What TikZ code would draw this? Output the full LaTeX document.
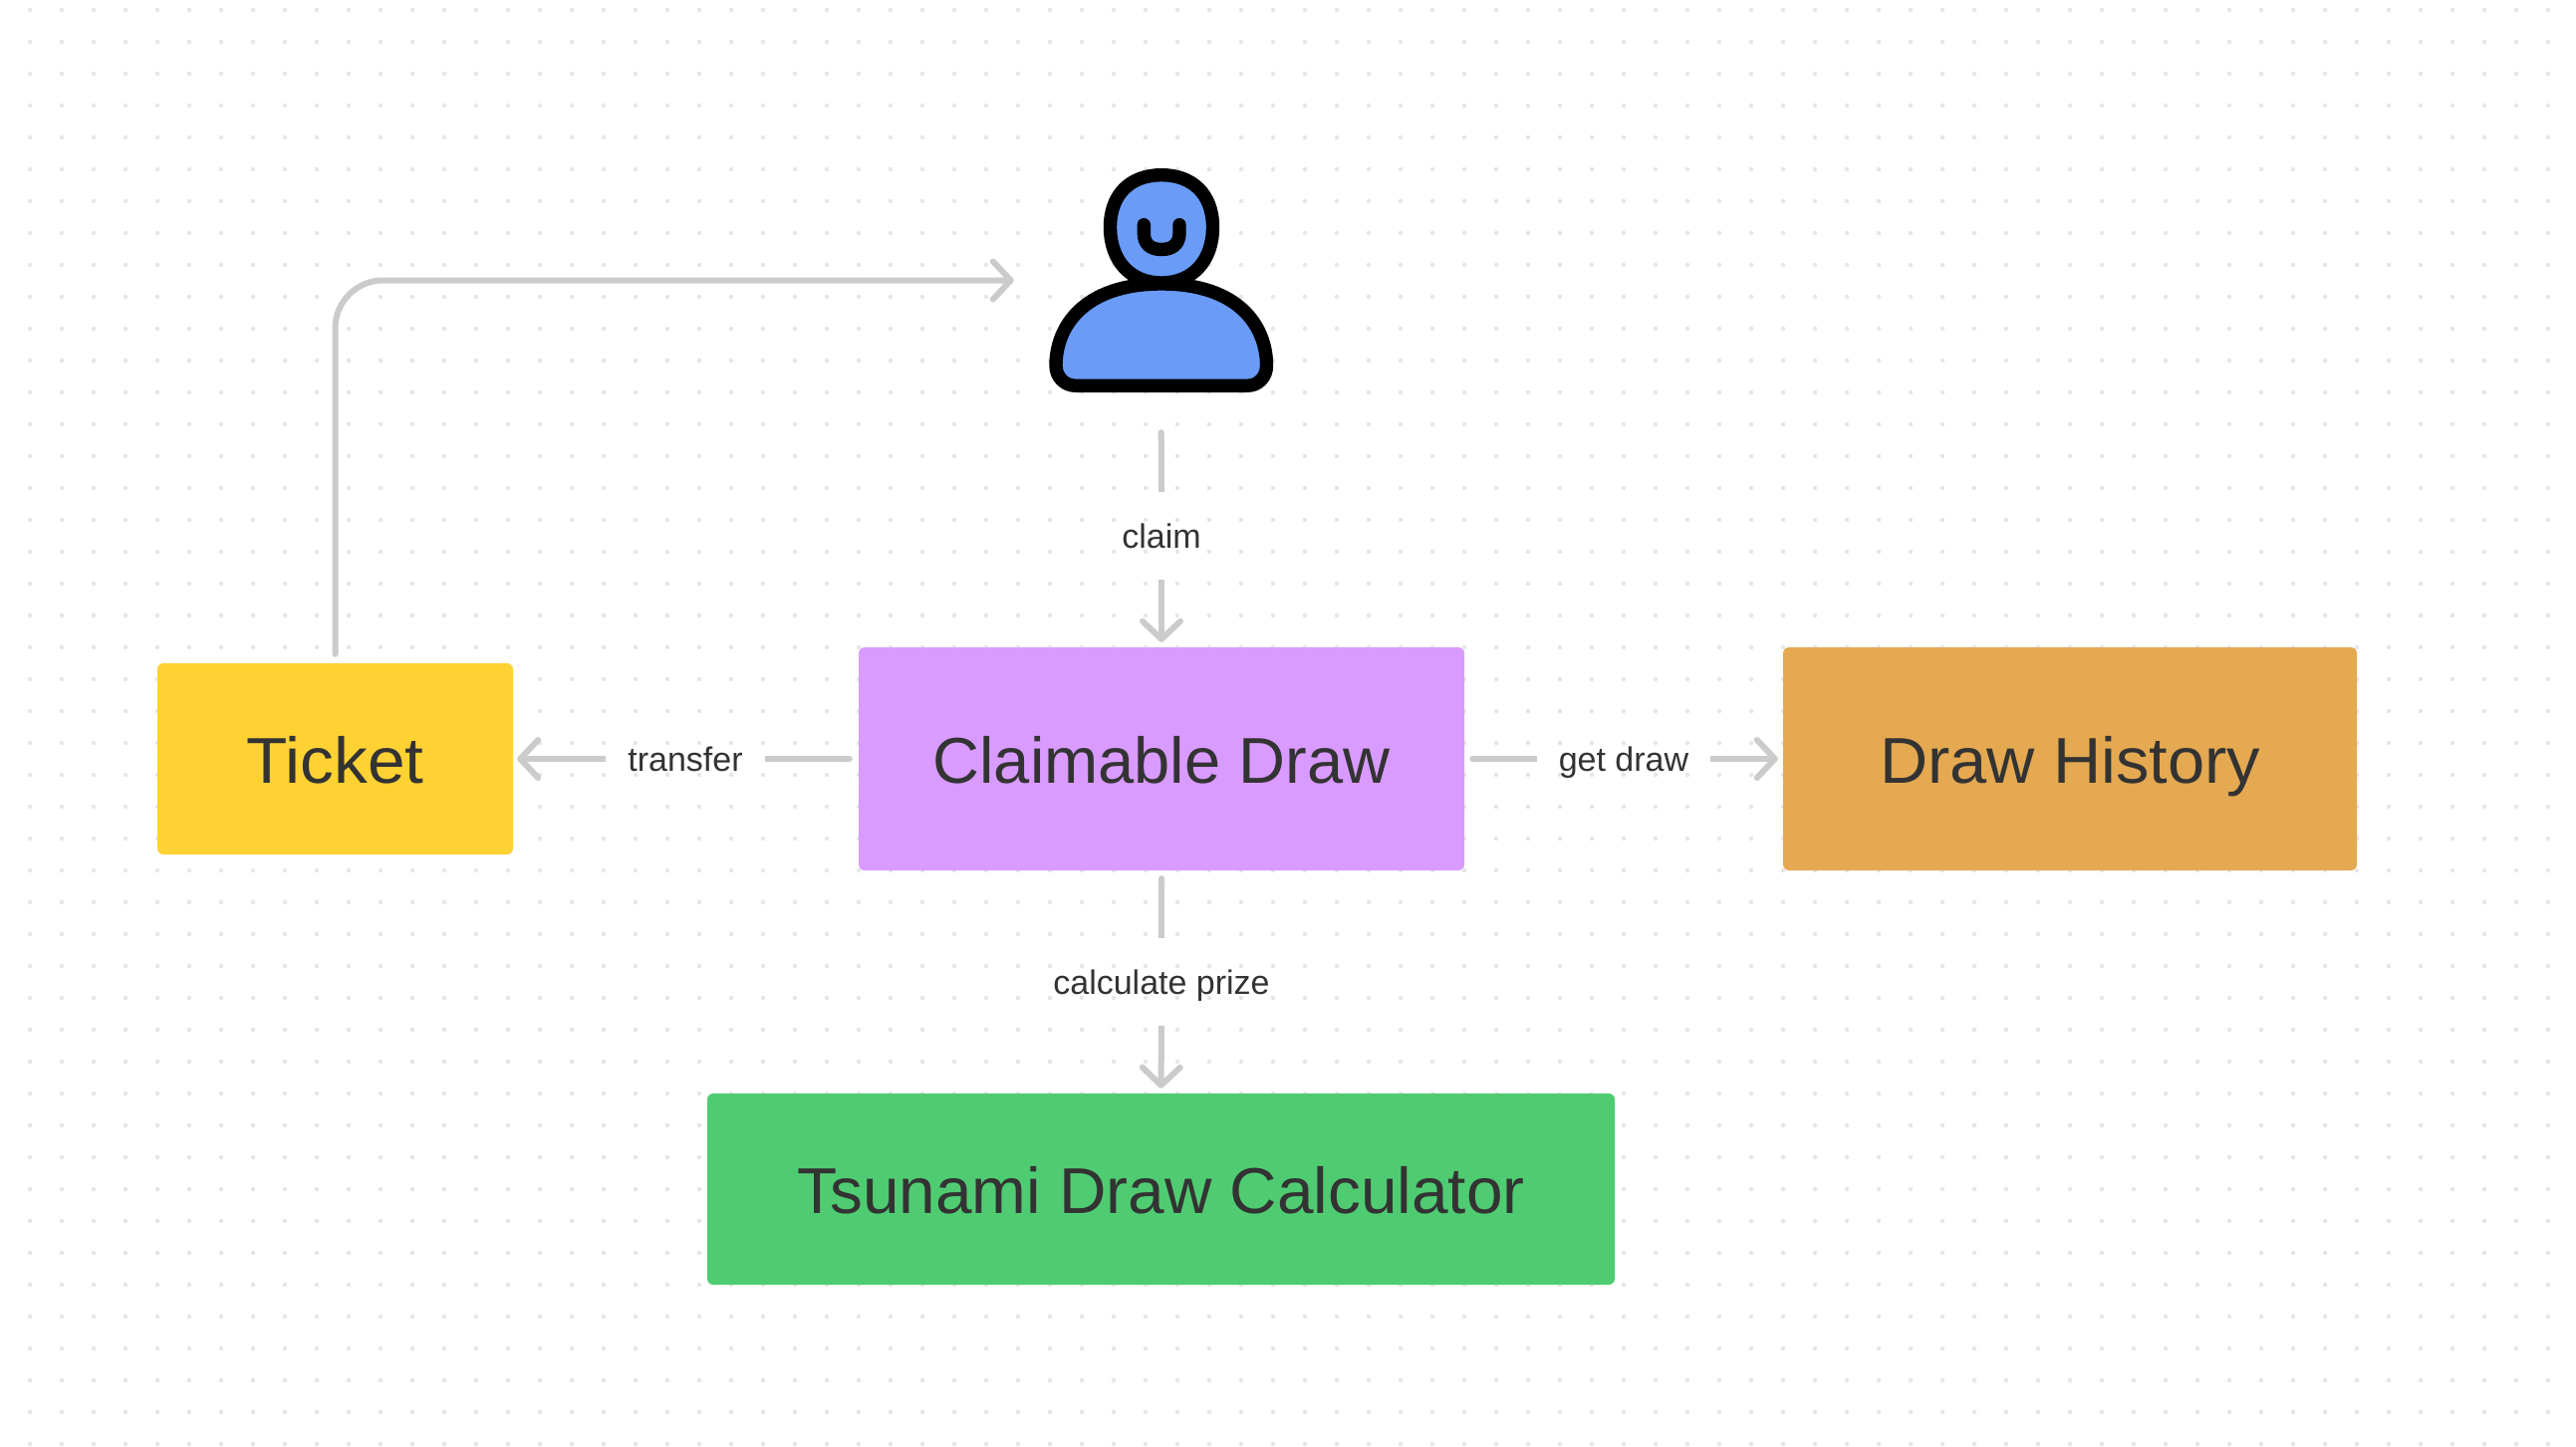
\documentclass[tikz,border=0pt]{standalone}
\usepackage{fontspec}
\setmainfont{Liberation Sans}
\usetikzlibrary{arrows.meta}
\definecolor{ink}{HTML}{333333}
\definecolor{wire}{HTML}{CCCACB}
\definecolor{gridDot}{HTML}{E6E6E6}
\definecolor{cYellow}{HTML}{FFD233}
\definecolor{cPurple}{HTML}{D99BFF}
\definecolor{cOrange}{HTML}{E4A951}
\definecolor{cGreen}{HTML}{4FCC72}
\definecolor{cBlue}{HTML}{699BF7}
\tikzset{
  x=1pt,y=-1pt,
  boxnode/.style={rectangle,rounded corners=6pt,draw=none,inner sep=0pt,text=ink,
    font=\fontsize{65}{72}\selectfont,text height=48pt,text depth=0pt,anchor=center},
  lbl/.style={rectangle,inner sep=0pt,text=ink,font=\fontsize{34}{40}\selectfont,
    text height=24pt,text depth=0pt,anchor=center},
  wireline/.style={draw=wire,line width=6pt},
  wirehead/.style={-{Straight Barb[length=18pt,width=38pt,line width=6pt,round,line cap=round]}},
  wirestart/.style={{Round Cap[]}-},
  wireboth/.style={{Round Cap[]}-{Straight Barb[length=18pt,width=38pt,line width=6pt,round,line cap=round]}},
  figure/.style={draw=black,line width=13.4pt,line join=round,fill=cBlue},
  dotrow/.style={draw=gridDot,line width=4.4pt,line cap=round,dash pattern=on 0pt off 32pt},
}
\begin{document}
\begin{tikzpicture}
\useasboundingbox (0,0) rectangle (2586,1452);
\fill[white] (0,0) rectangle (2586,1452);
% dot grid
\foreach \j in {0,...,45}{
  \draw[dotrow] (-2,{10+32*\j}) -- (2560,{10+32*\j});
}
% boxes
\node[boxnode,fill=cYellow,minimum width=357pt,minimum height=192pt] (ticket) at (336.5,762) {\scalebox{1.04}[1]{Ticket}};
\node[boxnode,fill=cPurple,minimum width=608pt,minimum height=224pt] (claimable) at (1166,762) {Claimable Draw};
\node[boxnode,fill=cOrange,minimum width=576pt,minimum height=224pt] (history) at (2078,762) {\scalebox{1.027}[1]{Draw History}};
\node[boxnode,fill=cGreen,minimum width=911pt,minimum height=192pt] (calc) at (1165.5,1194) {\scalebox{1.011}[1]{Tsunami Draw Calculator}};
% person
\node[inner sep=0pt,minimum width=225pt,minimum height=225pt] (person) at (1165.5,281.5) {};
\path[figure] (1166,175.7) .. controls (1135,175.7) and (1114.5,195) .. (1114.5,228)
  .. controls (1114.5,262) and (1135,284) .. (1166,284)
  .. controls (1197,284) and (1217.5,262) .. (1217.5,228)
  .. controls (1217.5,195) and (1197,175.7) .. (1166,175.7) -- cycle;
\path[figure] (1166,285) .. controls (1088,285) and (1060,328) .. (1060,367)
  .. controls (1060,379) and (1069,387.3) .. (1080,387.3)
  -- (1252,387.3)
  .. controls (1263,387.3) and (1271.5,379) .. (1271.5,367)
  .. controls (1271.5,328) and (1244,285) .. (1166,285) -- cycle;
\draw[black,line width=13.4pt,line cap=round] (1148.3,225.7) -- (1148.3,234)
  .. controls (1148.3,245) and (1155,250.5) .. (1166,250.5)
  .. controls (1177,250.5) and (1184,245) .. (1184,234) -- (1184,225.7);
% labels (their size is the gap they leave in the connector)
\node[lbl,minimum width=160pt] (transfer) at (688,762) {transfer};
\node[lbl,minimum width=174pt] (getdraw) at (1630,762) {get draw};
\node[lbl,minimum height=88pt] (claim) at (1166,538) {claim};
\node[lbl,minimum height=88pt] (prize) at (1166,986) {calculate prize};
% connectors
\draw[wireline,wireboth,rounded corners=48pt,shorten <=6pt,shorten >=35pt]
  (ticket.north) |- (person.west);
\draw[wireline,wirestart,shorten <=6pt] (claimable.west) -- (transfer.east);
\draw[wireline,wirehead,shorten >=4pt] (transfer.west) -- (ticket.east);
\draw[wireline,wirestart,shorten <=5pt] (claimable.east) -- (getdraw.west);
\draw[wireline,wirehead,shorten >=5pt] (getdraw.east) -- (history.west);
\draw[wireline,wirestart,shorten <=37pt] (person.south) -- (claim.north);
\draw[wireline,wirehead,shorten >=5pt] (claim.south) -- (claimable.north);
\draw[wireline,wirestart,shorten <=5pt] (claimable.south) -- (prize.north);
\draw[wireline,wirehead,shorten >=5pt] (prize.south) -- (calc.north);
\end{tikzpicture}
\end{document}
